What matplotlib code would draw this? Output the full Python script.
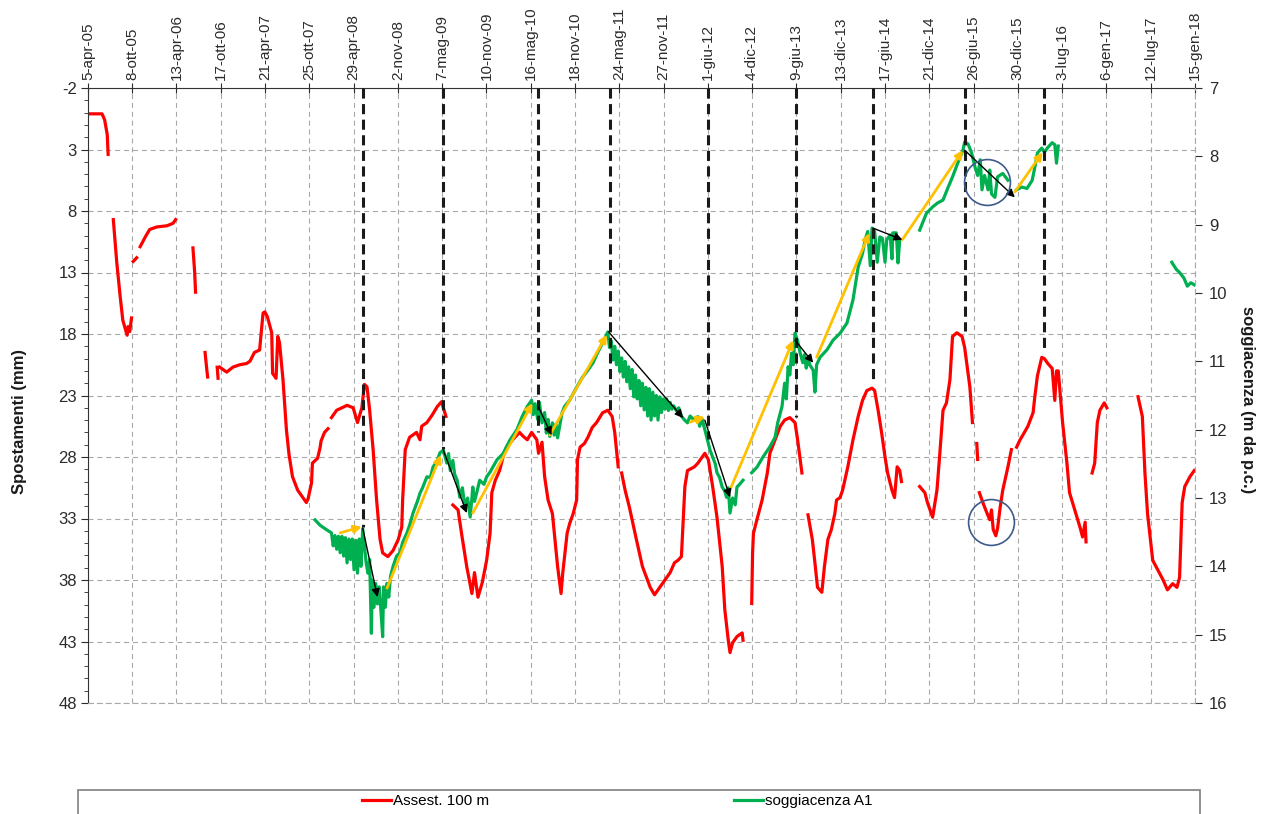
import numpy as np
import matplotlib
matplotlib.use('Agg')
import matplotlib.pyplot as plt
import matplotlib.dates as mdates
from matplotlib.patches import Rectangle
from datetime import datetime

plt.rcParams['font.family'] = ['Liberation Sans', 'DejaVu Sans']
plt.rcParams['axes.unicode_minus'] = False

# ==========================================
# 1. DATI (anno decimale, valore)
# ==========================================
etichette_date = ['5-apr-05', '8-ott-05', '13-apr-06', '17-ott-06', '21-apr-07', '25-ott-07',
                  '29-apr-08', '2-nov-08', '7-mag-09', '10-nov-09', '16-mag-10', '18-nov-10',
                  '24-mag-11', '27-nov-11', '1-giu-12', '4-dic-12', '9-giu-13', '13-dic-13',
                  '17-giu-14', '21-dic-14', '26-giu-15', '30-dic-15', '3-lug-16', '6-gen-17',
                  '12-lug-17', '15-gen-18']
mesi = {'gen': 1, 'feb': 2, 'mar': 3, 'apr': 4, 'mag': 5, 'giu': 6,
        'lug': 7, 'ago': 8, 'set': 9, 'ott': 10, 'nov': 11, 'dic': 12}

nan = np.nan

# Assest. 100 m (mm, asse sinistro)
assest_100m = [
    (2005.28, 0.1), (2005.42, 0.1), (2005.45, 0.6), (2005.48, 1.8), (2005.49, 3.4), (2005.50, nan),
    (2005.55, 8.7), (2005.57, 10.4), (2005.59, 12.2), (2005.63, 15.0), (2005.66, 16.9), (2005.71, 18.1),
    (2005.72, 17.4), (2005.74, 17.8), (2005.76, 16.7), (2005.77, nan),
    (2005.78, 12.1), (2005.82, 11.8), (2005.84, nan),
    (2005.86, 10.9), (2005.89, 10.5), (2005.92, 10.1), (2005.97, 9.5), (2006.05, 9.3), (2006.17, 9.2),
    (2006.24, 9.0), (2006.27, 8.7), (2006.30, nan),
    (2006.47, 11.0), (2006.49, 13.0), (2006.50, 14.6), (2006.55, nan),
    (2006.61, 19.5), (2006.63, 20.9), (2006.64, 21.5), (2006.70, nan),
    (2006.75, 20.7), (2006.76, 21.6), (2006.77, nan),
    (2006.78, 20.7), (2006.86, 21.1), (2006.93, 20.7), (2007.01, 20.5), (2007.09, 20.4), (2007.13, 20.2),
    (2007.18, 19.5), (2007.24, 19.3), (2007.28, 16.3), (2007.30, 16.2), (2007.33, 16.6), (2007.38, 17.9),
    (2007.39, 21.2), (2007.43, 21.6), (2007.45, 18.2), (2007.47, 18.7), (2007.51, 21.7), (2007.55, 25.8),
    (2007.58, 27.8), (2007.62, 29.6), (2007.68, 30.7), (2007.74, 31.3), (2007.78, 31.7), (2007.80, 31.4),
    (2007.84, 30.1), (2007.85, 28.5), (2007.91, 28.1), (2007.94, 27.2), (2007.95, 26.7), (2007.99, 26.0),
    (2008.03, 25.7), (2008.05, nan),
    (2008.07, 24.8), (2008.13, 24.2), (2008.25, 23.8), (2008.32, 24.0), (2008.37, 25.2), (2008.42, 24.0),
    (2008.45, 22.1), (2008.48, 22.3), (2008.51, 24.2), (2008.55, 27.4), (2008.59, 31.5), (2008.63, 34.7),
    (2008.66, 35.8), (2008.72, 36.1), (2008.78, 35.6), (2008.84, 34.7), (2008.88, 33.7), (2008.89, 31.5),
    (2008.92, 27.4), (2008.97, 26.4), (2009.05, 26.0), (2009.09, 26.6), (2009.11, 25.5), (2009.17, 25.2),
    (2009.23, 24.6), (2009.29, 23.9), (2009.34, 23.5), (2009.36, 24.0), (2009.39, 24.7), (2009.43, nan),
    (2009.47, 31.9), (2009.53, 32.3), (2009.57, 34.2), (2009.63, 36.9), (2009.69, 39.1), (2009.72, 37.4),
    (2009.76, 39.4), (2009.81, 38.2), (2009.86, 36.4), (2009.90, 34.2), (2009.92, 30.9), (2009.96, 29.9),
    (2010.01, 29.1), (2010.05, 28.0), (2010.09, 27.2), (2010.16, 26.6), (2010.24, 26.0), (2010.28, 26.3),
    (2010.33, 26.6), (2010.38, 26.0), (2010.44, 26.6), (2010.46, 27.7), (2010.50, 26.8), (2010.53, 29.6),
    (2010.57, 31.5), (2010.62, 32.6), (2010.68, 36.9), (2010.72, 39.1), (2010.74, 37.4), (2010.79, 34.2),
    (2010.82, 33.4), (2010.86, 32.6), (2010.90, 31.5), (2010.91, 28.2), (2010.94, 27.2), (2010.99, 26.9),
    (2011.03, 26.4), (2011.08, 25.6), (2011.13, 25.2), (2011.20, 24.4), (2011.26, 24.2), (2011.31, 24.7),
    (2011.34, 26.0), (2011.38, 28.8), (2011.40, nan),
    (2011.42, 29.3), (2011.46, 30.7), (2011.51, 32.1), (2011.59, 34.7), (2011.66, 36.9), (2011.75, 38.6),
    (2011.80, 39.2), (2011.86, 38.6), (2011.92, 38.0), (2011.98, 37.4), (2012.03, 36.6), (2012.07, 36.4),
    (2012.11, 36.1), (2012.15, 30.4), (2012.18, 29.1), (2012.26, 28.8), (2012.30, 28.5), (2012.35, 28.0),
    (2012.38, 27.7), (2012.42, 28.2), (2012.47, 30.4), (2012.52, 32.9), (2012.58, 36.9), (2012.61, 40.4),
    (2012.65, 42.9), (2012.67, 43.9), (2012.70, 43.1), (2012.75, 42.6), (2012.81, 42.3), (2012.82, 42.9),
    (2012.87, nan),
    (2012.92, 39.9), (2012.93, 35.8), (2012.94, 34.2), (2012.98, 33.1), (2013.04, 31.5), (2013.10, 29.3),
    (2013.13, 27.7), (2013.19, 26.6), (2013.25, 25.5), (2013.30, 25.0), (2013.36, 24.8), (2013.42, 25.2),
    (2013.45, 26.6), (2013.50, 29.3), (2013.53, nan),
    (2013.57, 32.7), (2013.62, 34.7), (2013.65, 36.6), (2013.68, 38.6), (2013.73, 39.0), (2013.76, 36.9),
    (2013.80, 34.7), (2013.84, 33.9), (2013.88, 32.6), (2013.90, 31.5), (2013.94, 31.3), (2013.97, 30.7),
    (2014.03, 28.8), (2014.09, 26.6), (2014.15, 24.7), (2014.20, 23.4), (2014.25, 22.6), (2014.31, 22.4),
    (2014.34, 22.6), (2014.38, 24.2), (2014.42, 26.0), (2014.46, 28.0), (2014.49, 29.3), (2014.54, 30.7),
    (2014.57, 31.3), (2014.60, 28.8), (2014.63, 29.1), (2014.65, 30.0), (2014.75, nan),
    (2014.86, 30.4), (2014.92, 30.9), (2014.95, 31.7), (2015.01, 32.9), (2015.06, 30.7), (2015.09, 28.0),
    (2015.13, 24.2), (2015.17, 23.6), (2015.21, 21.7), (2015.24, 18.2), (2015.29, 17.9), (2015.35, 18.2),
    (2015.38, 19.1), (2015.44, 22.3), (2015.47, 25.2), (2015.50, nan),
    (2015.52, 26.9), (2015.53, 28.2), (2015.54, nan),
    (2015.55, 30.9), (2015.59, 31.7), (2015.64, 32.6), (2015.67, 33.1), (2015.69, 32.3), (2015.71, 33.9),
    (2015.74, 34.4), (2015.76, 33.8), (2015.79, 32.1), (2015.82, 30.7), (2015.88, 28.8), (2015.92, 27.4),
    (2015.95, nan),
    (2015.98, 27.2), (2016.02, 26.6), (2016.07, 26.0), (2016.11, 25.5), (2016.17, 24.4), (2016.19, 23.1),
    (2016.22, 21.4), (2016.27, 19.9), (2016.30, 20.0), (2016.34, 20.4), (2016.39, 20.8), (2016.42, 23.4),
    (2016.44, 21.0), (2016.46, 21.0), (2016.51, 25.2), (2016.56, 28.5), (2016.59, 30.9), (2016.65, 32.3),
    (2016.71, 33.7), (2016.74, 34.5), (2016.77, 33.3), (2016.78, 34.9), (2016.81, nan),
    (2016.85, 29.3), (2016.88, 28.5), (2016.91, 25.2), (2016.94, 24.2), (2016.99, 23.6), (2017.02, 24.0),
    (2017.20, nan),
    (2017.38, 23.1), (2017.43, 24.7), (2017.46, 29.3), (2017.49, 32.6), (2017.55, 36.4), (2017.61, 37.2),
    (2017.67, 38.0), (2017.72, 38.8), (2017.78, 38.3), (2017.83, 38.6), (2017.86, 37.8), (2017.89, 31.7),
    (2017.92, 30.4), (2017.98, 29.6), (2018.03, 29.1),
]

# soggiacenza A1 (m da p.c., asse destro)
soggiacenza_a1 = [
    (2007.88, 13.32), (2007.94, 13.40), (2008.02, 13.47), (2008.07, 13.51),
    (2008.09, 13.70), (2008.11, 13.55), (2008.13, 13.75), (2008.15, 13.56), (2008.17, 13.80), (2008.19, 13.56),
    (2008.21, 13.85), (2008.23, 13.58), (2008.25, 13.95), (2008.27, 13.60), (2008.29, 13.90), (2008.31, 13.60),
    (2008.33, 14.05), (2008.35, 13.62), (2008.37, 14.10), (2008.39, 13.60), (2008.41, 14.00), (2008.43, 13.45),
    (2008.45, 13.70), (2008.47, 13.95), (2008.49, 14.10), (2008.51, 13.90), (2008.53, 14.98), (2008.54, 14.20),
    (2008.56, 14.60), (2008.58, 14.25), (2008.60, 14.55), (2008.62, 14.30), (2008.64, 14.65), (2008.66, 15.03),
    (2008.67, 14.30), (2008.69, 14.60), (2008.71, 14.25), (2008.73, 14.45), (2008.75, 14.15), (2008.78, 14.00),
    (2008.82, 13.85), (2008.86, 13.80), (2008.89, 13.65), (2008.94, 13.51), (2008.97, 13.40), (2009.01, 13.22),
    (2009.06, 13.05), (2009.09, 12.93), (2009.12, 12.85), (2009.17, 12.69), (2009.21, 12.70), (2009.24, 12.55),
    (2009.29, 12.45), (2009.32, 12.34), (2009.36, 12.30), (2009.40, 12.49), (2009.42, 12.35), (2009.44, 12.60),
    (2009.47, 12.45), (2009.49, 12.65), (2009.52, 12.74), (2009.55, 12.99), (2009.58, 12.85), (2009.61, 13.13),
    (2009.64, 13.00), (2009.67, 13.28), (2009.69, 13.00), (2009.70, 12.84), (2009.72, 13.05), (2009.75, 12.90),
    (2009.78, 12.74), (2009.83, 12.80), (2009.86, 12.69), (2009.90, 12.62), (2009.98, 12.44), (2010.05, 12.35),
    (2010.13, 12.15), (2010.21, 12.00), (2010.27, 11.81), (2010.33, 11.66), (2010.38, 11.57), (2010.40, 11.78),
    (2010.42, 11.62), (2010.45, 11.85), (2010.47, 11.60), (2010.50, 11.90), (2010.53, 11.75), (2010.55, 12.05),
    (2010.57, 11.85), (2010.59, 12.10), (2010.62, 11.90), (2010.64, 12.08), (2010.66, 11.92), (2010.68, 12.12),
    (2010.71, 11.90), (2010.73, 11.76), (2010.76, 11.66), (2010.82, 11.57), (2010.90, 11.38), (2010.97, 11.23),
    (2011.03, 11.13), (2011.09, 11.02), (2011.14, 10.88), (2011.20, 10.73), (2011.26, 10.57),
    (2011.28, 10.80), (2011.30, 10.70), (2011.32, 10.98), (2011.34, 10.78), (2011.36, 11.05), (2011.38, 10.85),
    (2011.40, 11.15), (2011.42, 10.95), (2011.44, 11.23), (2011.46, 11.00), (2011.48, 11.30), (2011.50, 11.08),
    (2011.52, 11.40), (2011.54, 11.12), (2011.56, 11.52), (2011.58, 11.20), (2011.60, 11.55), (2011.62, 11.28),
    (2011.64, 11.65), (2011.66, 11.32), (2011.68, 11.71), (2011.70, 11.38), (2011.72, 11.80), (2011.74, 11.40),
    (2011.76, 11.86), (2011.78, 11.45), (2011.80, 11.80), (2011.82, 11.50), (2011.84, 11.86), (2011.86, 11.52),
    (2011.88, 11.75), (2011.90, 11.55), (2011.92, 11.70), (2011.94, 11.55), (2011.96, 11.72), (2011.98, 11.60),
    (2012.00, 11.70), (2012.02, 11.65), (2012.05, 11.72), (2012.08, 11.68), (2012.11, 11.80), (2012.14, 11.85),
    (2012.18, 11.90), (2012.21, 11.80), (2012.25, 11.85), (2012.30, 11.81), (2012.32, 11.95), (2012.35, 11.85),
    (2012.38, 12.00), (2012.42, 12.20), (2012.44, 12.30), (2012.47, 12.40), (2012.50, 12.50), (2012.52, 12.63),
    (2012.55, 12.70), (2012.58, 12.84), (2012.61, 12.90), (2012.63, 12.99), (2012.65, 12.85), (2012.67, 13.22),
    (2012.70, 13.00), (2012.73, 13.10), (2012.75, 12.84), (2012.78, 12.80), (2012.82, 12.74), (2012.87, nan),
    (2012.92, 12.63), (2012.98, 12.55), (2013.05, 12.40), (2013.13, 12.25), (2013.19, 12.11), (2013.22, 11.90),
    (2013.27, 11.66), (2013.30, 11.32), (2013.32, 11.55), (2013.34, 11.08), (2013.36, 11.20), (2013.38, 10.88),
    (2013.40, 11.05), (2013.42, 10.59), (2013.45, 10.70), (2013.48, 10.88), (2013.51, 11.02), (2013.53, 10.90),
    (2013.55, 11.10), (2013.57, 10.95), (2013.59, 11.05), (2013.63, 11.13), (2013.65, 11.45), (2013.67, 11.05),
    (2013.71, 10.94), (2013.79, 10.83), (2013.86, 10.69), (2013.94, 10.59), (2014.02, 10.44), (2014.09, 10.10),
    (2014.15, 9.62), (2014.20, 9.42), (2014.23, 9.22), (2014.26, 9.10), (2014.29, 9.60), (2014.31, 9.05),
    (2014.34, 9.10), (2014.37, 9.55), (2014.40, 9.18), (2014.43, 9.20), (2014.46, 9.55), (2014.48, 9.22),
    (2014.52, 9.15), (2014.54, 9.50), (2014.55, 9.12), (2014.59, 9.12), (2014.61, 9.56), (2014.63, 9.22),
    (2014.75, nan),
    (2014.86, 9.08), (2014.94, 8.83), (2015.01, 8.74), (2015.07, 8.68), (2015.13, 8.64), (2015.19, 8.45),
    (2015.24, 8.30), (2015.30, 8.10), (2015.36, 7.91), (2015.38, 7.79), (2015.42, 7.82), (2015.46, 7.95),
    (2015.50, 8.16), (2015.53, 8.28), (2015.56, 8.05), (2015.58, 8.49), (2015.61, 8.28), (2015.65, 8.49),
    (2015.67, 8.20), (2015.69, 8.55), (2015.73, 8.60), (2015.76, 8.30), (2015.82, 8.25), (2015.88, 8.35),
    (2015.93, nan),
    (2015.98, 8.49), (2016.04, 8.45), (2016.10, 8.47), (2016.16, 8.35), (2016.19, 8.16), (2016.22, 7.95),
    (2016.27, 7.88), (2016.30, 7.94), (2016.34, 7.87), (2016.39, 7.80), (2016.42, 7.83), (2016.44, 8.10),
    (2016.46, 7.85), (2017.00, nan),
    (2017.77, 9.55), (2017.82, 9.65), (2017.86, 9.70), (2017.91, 9.78), (2017.95, 9.90), (2017.99, 9.85),
    (2018.03, 9.88),
]

# linee verticali tratteggiate: anno, fine in basso (m da p.c.)
linee_verticali = [(2008.43, 13.43), (2009.36, 12.29), (2010.45, 12.04), (2011.28, 11.75), (2012.42, 12.13),
                   (2013.43, 11.81), (2014.32, 11.27), (2015.38, 10.56), (2016.30, 10.80)]

# frecce: anno inizio, m inizio, anno fine, m fine
frecce_gialle = [(2008.17, 13.51, 2008.42, 13.42), (2008.71, 14.32, 2009.33, 12.37),
                 (2009.70, 13.22, 2010.39, 11.61), (2010.59, 12.08, 2011.25, 10.61),
                 (2012.21, 11.89, 2012.38, 11.81), (2012.67, 12.88, 2013.40, 10.69),
                 (2013.67, 10.94, 2014.28, 9.12), (2014.66, 9.22, 2015.36, 7.91),
                 (2015.96, 8.52, 2016.28, 7.94)]
frecce_nere = [(2008.43, 13.44, 2008.60, 14.45), (2009.36, 12.30, 2009.63, 13.22),
               (2010.46, 11.67, 2010.61, 12.08), (2011.27, 10.57, 2012.13, 11.83),
               (2012.38, 11.86, 2012.67, 12.99), (2013.42, 10.69, 2013.63, 11.02),
               (2014.32, 9.05, 2014.66, 9.22), (2015.38, 7.91, 2015.96, 8.60)]

# cerchi di evidenza (anno, m da p.c.)
cerchi = [(2015.64, 8.38), (2015.69, 13.35)]


# ==========================================
# 2. FUNZIONI DI CONVERSIONE
# ==========================================
def anno_a_num(anni):
    """Anno decimale -> numero data di matplotlib."""
    out = []
    for a in anni:
        y = int(a)
        inizio = mdates.date2num(datetime(y, 1, 1))
        fine = mdates.date2num(datetime(y + 1, 1, 1))
        out.append(inizio + (a - y) * (fine - inizio))
    return np.array(out)


def etichetta_a_num(s):
    g, m, a = s.split('-')
    return mdates.date2num(datetime(2000 + int(a), mesi[m], int(g)))


tick_x = [etichetta_a_num(s) for s in etichette_date]
x_rosso = anno_a_num([p[0] for p in assest_100m])
y_rosso = np.array([p[1] for p in assest_100m])
x_verde = anno_a_num([p[0] for p in soggiacenza_a1])
y_verde = np.array([p[1] for p in soggiacenza_a1])

# ==========================================
# 3. GRAFICO
# ==========================================
W, H = 1266, 814
fig = plt.figure(figsize=(W / 100, H / 100), dpi=100)
ax = fig.add_axes([88 / W, 1 - 703 / H, (1195 - 88) / W, (703 - 88) / H])
ax2 = ax.twinx()

griglia = dict(color='#a8a8a8', lw=0.8, linestyle=(0, (4.5, 3.5)))
ax.grid(True, which='major', **griglia)
ax.set_axisbelow(True)

linea_rossa, = ax.plot(x_rosso, y_rosso, color='#ff0000', lw=2.3, solid_joinstyle='round')
linea_verde, = ax2.plot(x_verde, y_verde, color='#00b050', lw=2.3, solid_joinstyle='round')

ax.set_xlim(tick_x[0], tick_x[-1])
ax.set_ylim(48, -2)
ax.set_yticks(np.arange(-2, 49, 5))
ax.set_yticks(np.arange(-2, 49, 1), minor=True)
ax2.set_ylim(16, 7)
ax2.set_yticks(np.arange(7, 17, 1))

ax.set_xticks(tick_x)
ax.set_xticklabels(etichette_date)
ax.xaxis.tick_top()
ax.tick_params(axis='x', which='major', direction='inout', length=7, labelsize=11,
               labelrotation=90, pad=2, colors='#2b2b2b')
ax.tick_params(axis='y', which='major', direction='out', length=5, labelsize=12, pad=3, colors='#2b2b2b')
ax.tick_params(axis='y', which='minor', direction='out', length=3, colors='#2b2b2b')
ax2.tick_params(axis='y', direction='out', length=5, labelsize=12, pad=5, colors='#2b2b2b')

# bordi
ax.spines['top'].set_color('#333333')
ax.spines['left'].set_color('#333333')
ax.spines['right'].set_visible(False)
ax.spines['bottom'].set_color('#a8a8a8')
ax.spines['bottom'].set_linestyle((0, (4.5, 3.5)))
for lato in ['left', 'top', 'bottom']:
    ax2.spines[lato].set_visible(False)
ax2.spines['right'].set_color('#a8a8a8')
ax2.spines['right'].set_linestyle((0, (4.5, 3.5)))

# linee verticali tratteggiate nere
xv = anno_a_num([v[0] for v in linee_verticali])
ax2.vlines(xv, 7, [v[1] for v in linee_verticali], colors='#1a1a1a', lw=2.2,
           linestyles=[(0, (3.3, 1.8))], zorder=4)

# frecce
for a0, v0, a1, v1 in frecce_gialle:
    ax2.annotate('', xy=(anno_a_num([a1])[0], v1), xytext=(anno_a_num([a0])[0], v0),
                 arrowprops=dict(arrowstyle='-|>', color='#ffc000', lw=2.0,
                                 mutation_scale=11, shrinkA=0, shrinkB=0), zorder=5)
for a0, v0, a1, v1 in frecce_nere:
    ax2.annotate('', xy=(anno_a_num([a1])[0], v1), xytext=(anno_a_num([a0])[0], v0),
                 arrowprops=dict(arrowstyle='-|>', color='black', lw=1.0,
                                 mutation_scale=12, shrinkA=0, shrinkB=0), zorder=6)

# cerchi
ax2.plot(anno_a_num([c[0] for c in cerchi]), [c[1] for c in cerchi], 'o', ms=33,
         mfc='none', mec='#3d5a8a', mew=1.2, ls='none', zorder=7)

# titoli assi
fig.text(20 / W, 1 - 421 / H, 'Spostamenti (mm)', rotation=90, ha='center', va='center',
         fontsize=12, fontweight='bold', color='#1a1a1a')
fig.text(1248 / W, 1 - 400 / H, 'soggiacenza (m da p.c.)', rotation=270, ha='center', va='center',
         fontsize=12, fontweight='bold', color='#1a1a1a')

# legenda
font_leg = dict(family=['Liberation Sans Narrow', 'Liberation Sans'], size=11)
fig.legend([linea_rossa], ['Assest. 100 m'], loc='center left', bbox_to_anchor=(362 / W, 1 - 801 / H),
           frameon=False, prop=font_leg, handlelength=1.9, handletextpad=0.15, borderpad=0, borderaxespad=0)
fig.legend([linea_verde], ['soggiacenza A1'], loc='center left', bbox_to_anchor=(734 / W, 1 - 801 / H),
           frameon=False, prop=font_leg, handlelength=1.9, handletextpad=0.15, borderpad=0, borderaxespad=0)
fig.add_artist(Rectangle((78 / W, -0.05), (1200 - 78) / W, 0.05 + 1 - 790 / H, transform=fig.transFigure,
                         fill=False, ec='#7f7f7f', lw=1.2))

fig.savefig('out.png', dpi=100)
